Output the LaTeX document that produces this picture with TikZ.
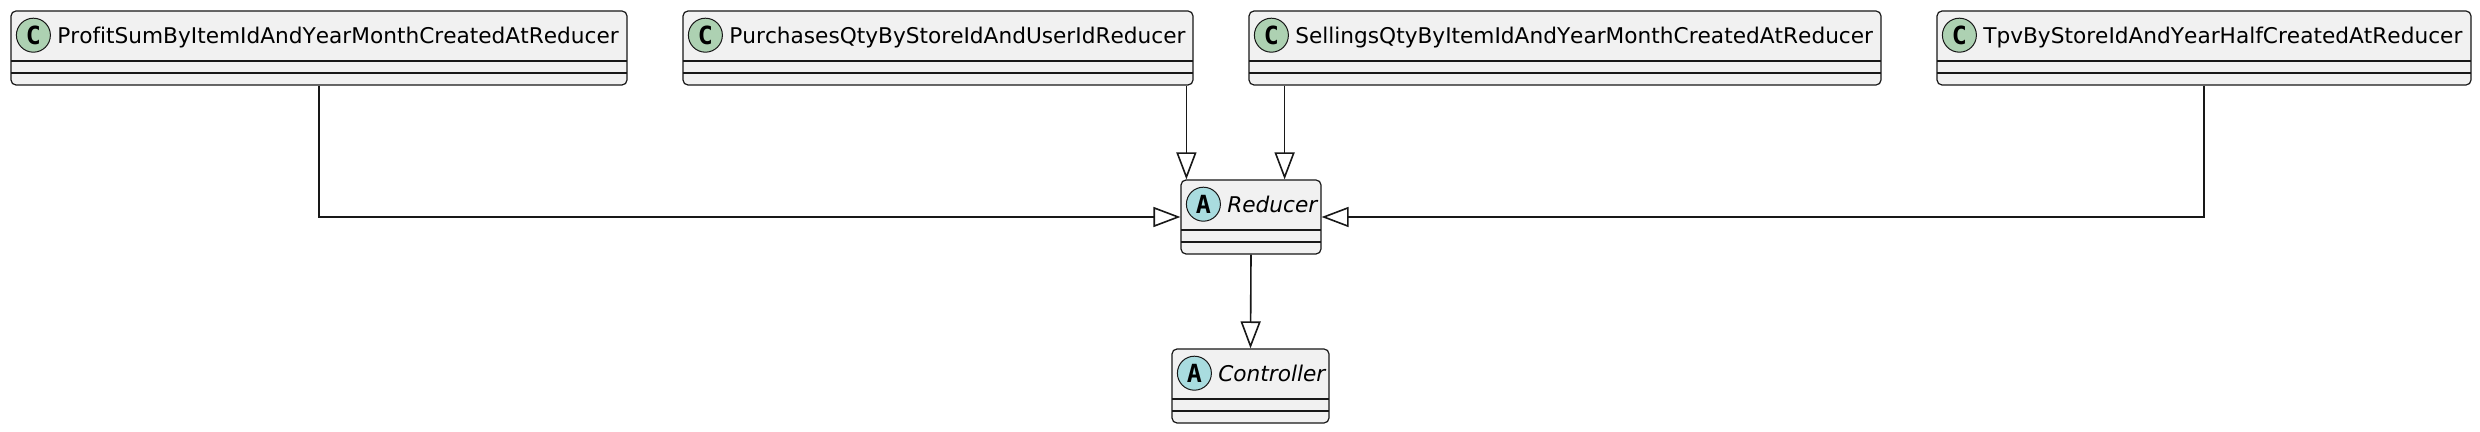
\documentclass[tikz,border=0pt]{standalone}
\usepackage{fontspec}
\setmainfont{DejaVu Sans}[Kerning=Off, Ligatures=NoCommon]
\newfontfamily\iconfont{DejaVu Sans Mono}
\usetikzlibrary{positioning,arrows.meta}
\definecolor{boxfill}{HTML}{F1F1F1}
\definecolor{linec}{HTML}{181818}
\definecolor{classc}{HTML}{ADD1B2}
\definecolor{abstractc}{HTML}{A9DCDF}
\tikzset{
  classbox/.style={draw=linec, fill=boxfill, line width=0.6pt, rounded corners=2.5pt, minimum height=37pt, inner sep=0pt,
    path picture={\draw[linec, line width=0.6pt]
      ([yshift=12pt]path picture bounding box.south west) -- ([yshift=12pt]path picture bounding box.south east)
      ([yshift=6pt]path picture bounding box.south west) -- ([yshift=6pt]path picture bounding box.south east);}},
  icon/.style={circle, draw=linec, line width=0.5pt, minimum size=17pt, inner sep=0pt, font=\iconfont\bfseries\fontsize{12.5pt}{12.5pt}\selectfont},
  classicon/.style={icon, fill=classc},
  abstracticon/.style={icon, fill=abstractc},
  title/.style={inner sep=0pt, anchor=west, text height=7.9pt, text depth=0pt, font=\fontsize{10.83pt}{13pt}\selectfont},
  inherit/.style={draw=linec, line width=0.8pt, -{Triangle[open, length=13.5pt, width=10pt]}}
}
\begin{document}
\begin{tikzpicture}[x=0.5pt,y=-0.5pt]
            \fill[white] (0,0) rectangle (2480,432);
            \useasboundingbox (0,0) rectangle (2480,432);

            % classes
            \node[classbox, minimum width=308pt] (profit) at (319,48) {};
            \node[classbox, minimum width=255pt] (purchases) at (938,48) {};
            \node[classbox, minimum width=316pt] (sellings) at (1565,48) {};
            \node[classbox, minimum width=267pt] (tpv) at (2204,48) {};
            \node[classbox, minimum width=70pt] (reducer) at (1251,217) {};
            \node[classbox, minimum width=78.5pt] (controller) at (1250.5,386) {};

            % headers
            \node[classicon] (profiti) at ([xshift=11.5pt,yshift=-12.4pt]profit.north west) {C};
            \node[title, right=3pt of profiti] {ProfitSumByItemIdAndYearMonthCreatedAtReducer};
            \node[classicon] (purchasesi) at ([xshift=11.5pt,yshift=-12.4pt]purchases.north west) {C};
            \node[title, right=3pt of purchasesi] {PurchasesQtyByStoreIdAndUserIdReducer};
            \node[classicon] (sellingsi) at ([xshift=11.5pt,yshift=-12.4pt]sellings.north west) {C};
            \node[title, right=3pt of sellingsi] {SellingsQtyByItemIdAndYearMonthCreatedAtReducer};
            \node[classicon] (tpvi) at ([xshift=11.5pt,yshift=-12.4pt]tpv.north west) {C};
            \node[title, right=3pt of tpvi] {TpvByStoreIdAndYearHalfCreatedAtReducer};
            \node[abstracticon] (reduceri) at ([xshift=11.5pt,yshift=-12.4pt]reducer.north west) {A};
            \node[title, right=3pt of reduceri] {\itshape Reducer};
            \node[abstracticon] (controlleri) at ([xshift=11.5pt,yshift=-12.4pt]controller.north west) {A};
            \node[title, right=3pt of controlleri] {\itshape Controller};

            % edges
            \coordinate (r2) at ([xshift=3pt]reducer.north west);
            \coordinate (r3) at ([xshift=-18.5pt]reducer.north east);
            \path[inherit] (profit.south) |- (reducer.west);
            \path[inherit] (r2 |- purchases.south) -- (r2);
            \path[inherit] (r3 |- sellings.south) -- (r3);
            \path[inherit] (tpv.south) |- (reducer.east);
            \path[inherit] (reducer.south) -- (controller.north);
\end{tikzpicture}
\end{document}
